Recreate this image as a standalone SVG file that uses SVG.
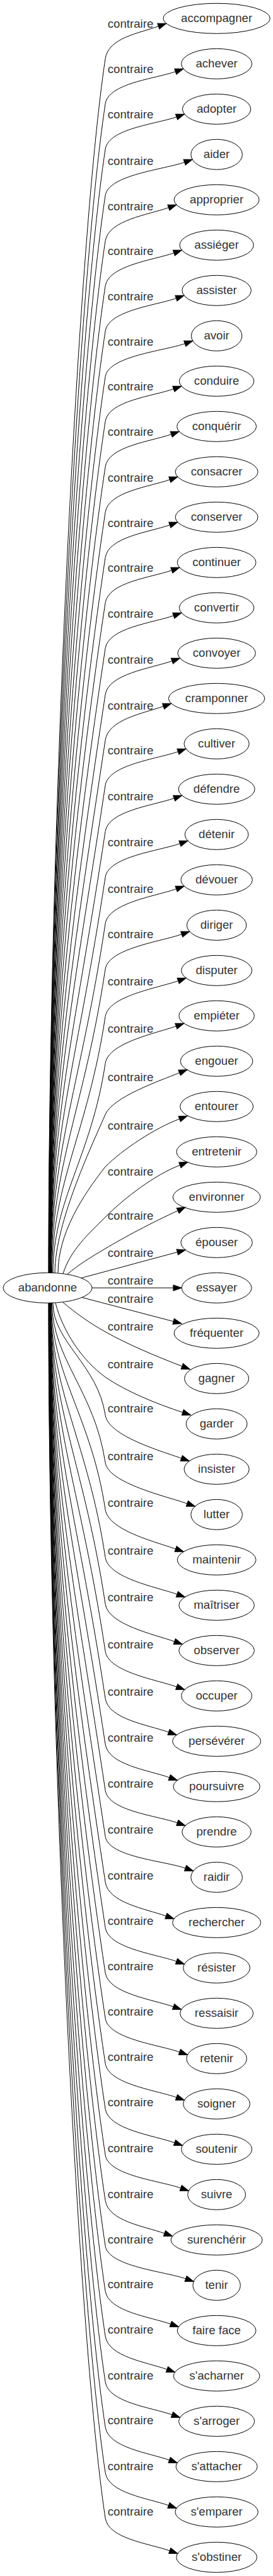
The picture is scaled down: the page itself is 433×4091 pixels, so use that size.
<svg xmlns="http://www.w3.org/2000/svg" width="433" height="4091" viewBox="0 0 433 4091">
<defs>
<marker id="ah" markerUnits="userSpaceOnUse" markerWidth="14" markerHeight="10" refX="0" refY="4.67" orient="auto" overflow="visible"><path d="M0,0 L13.3,4.67 L0,9.33 Z" fill="#000" stroke="#000" stroke-width="1"/></marker>
</defs>
<style>
.n ellipse{fill:none;stroke:#000;stroke-width:1}
text{font-family:"Liberation Sans",Arial,Helvetica,sans-serif;font-size:18.67px;text-anchor:middle;fill:#333}
.e path{fill:none;stroke:#000;stroke-width:1;marker-end:url(#ah)}
</style>
<rect width="433" height="4091" fill="#fff"/>
<g id="edges" class="e">
<g id="e00"><path d="M77,2021.5 C77,1346.6 122,393.3 167,93.3 C172,60.3 218.4,53.3 251.3,41.7"/><text x="207" y="44.3">contraire</text></g>
<g id="e01"><path d="M77.2,2021.5 C77.2,1371.7 122,465 167,165 C172,132 245.4,125.3 278.3,113.7"/><text x="207" y="116">contraire</text></g>
<g id="e02"><path d="M77.4,2021.5 C77.4,1396.9 122,537 167,237 C172,204 247.1,197.3 280,185.7"/><text x="207" y="188">contraire</text></g>
<g id="e03"><path d="M77.6,2021.5 C77.6,1422.6 122,610.5 167,310.5 C172,277.5 259.7,269.3 292.6,257.7"/><text x="207" y="261.5">contraire</text></g>
<g id="e04"><path d="M77.8,2021.5 C77.8,1447.9 122,682.7 167,382.7 C172,349.7 234.5,341.3 267.4,329.7"/><text x="207" y="333.7">contraire</text></g>
<g id="e05"><path d="M78,2021.5 C78,1473 122,754.3 167,454.3 C172,421.3 242.9,413.3 275.8,401.7"/><text x="207" y="405.3">contraire</text></g>
<g id="e06"><path d="M78.2,2021.5 C78.2,1498.1 122,826 167,526 C172,493 246.5,485.3 279.4,473.7"/><text x="207" y="477">contraire</text></g>
<g id="e07"><path d="M78.4,2021.5 C78.4,1523.4 122,898.3 167,598.3 C172,565.3 260.3,557.3 293.2,545.7"/><text x="207" y="549.3">contraire</text></g>
<g id="e08"><path d="M78.6,2021.5 C78.6,1548.2 122,969.2 167,669.2 C172,636.2 242.4,629.3 275.3,617.7"/><text x="207" y="620.2">contraire</text></g>
<g id="e09"><path d="M78.8,2021.5 C78.8,1573.5 122,1041.4 167,741.4 C172,708.4 238.8,701.3 271.7,689.7"/><text x="207" y="692.4">contraire</text></g>
<g id="e10"><path d="M79,2021.5 C79,1598.8 122,1113.7 167,813.7 C172,780.7 236.4,773.3 269.3,761.7"/><text x="207" y="764.7">contraire</text></g>
<g id="e11"><path d="M79.2,2021.5 C79.2,1623.9 122,1185.5 167,885.5 C172,852.5 236.4,845.3 269.3,833.7"/><text x="207" y="836.5">contraire</text></g>
<g id="e12"><path d="M79.4,2021.5 C79.4,1649.1 122,1257.4 167,957.4 C172,924.4 239.4,917.3 272.3,905.7"/><text x="207" y="908.4">contraire</text></g>
<g id="e13"><path d="M79.6,2021.5 C79.6,1674.4 122,1329.7 167,1029.7 C172,996.7 242.4,989.3 275.3,977.7"/><text x="207" y="980.7">contraire</text></g>
<g id="e14"><path d="M79.8,2021.5 C79.8,1700 122,1403 167,1103 C172,1070 240,1061.3 272.9,1049.7"/><text x="207" y="1054">contraire</text></g>
<g id="e15"><path d="M80,2021.5 C80,1725.4 122,1475.5 167,1175.5 C172,1142.5 226.2,1133.3 259.1,1121.7"/><text x="207" y="1126.5">contraire</text></g>
<g id="e16"><path d="M80.2,2021.5 C80.2,1750.5 122,1547.2 167,1247.2 C172,1214.2 249.5,1205.3 282.4,1193.7"/><text x="207" y="1198.2">contraire</text></g>
<g id="e17"><path d="M80.4,2021.5 C80.4,1776.1 122,1620.4 167,1320.4 C172,1287.4 243.2,1279.3 276.1,1267.7"/><text x="207" y="1271.4">contraire</text></g>
<g id="e18"><path d="M80.6,2021.5 C80.6,1801.6 124.6,1675.9 167,1393.1 C172,1360.1 252.5,1351.3 285.4,1339.7"/><text x="207" y="1344.1">contraire</text></g>
<g id="e19"><path d="M80.8,2021.5 C80.8,1827.4 129.6,1716.5 167,1466.9 C172,1433.9 246.7,1423.3 279.6,1411.7"/><text x="207" y="1417.9">contraire</text></g>
<g id="e20"><path d="M81.5,2021.5 C81.5,1852.7 134.4,1756.2 167,1539.1 C172,1506.1 255.3,1495.3 288.2,1483.7"/><text x="207" y="1490.1">contraire</text></g>
<g id="e21"><path d="M82.5,2021.5 C82.5,1879 139.5,1797.6 167,1614.4 C172,1581.4 249.7,1569.3 282.6,1557.7"/><text x="207" y="1565.4">contraire</text></g>
<g id="e22"><path d="M84,2021.5 C84,1905.1 144.5,1838.6 167,1688.9 C172,1655.9 246.4,1641.3 279.3,1629.7"/><text x="207" y="1639.9">contraire</text></g>
<g id="e23"><path d="M87,2021.5 C87,1940 150,1810 167,1770 C178.7,1742.4 251.7,1717 284.6,1703.7"/><text x="207" y="1717.4">contraire</text></g>
<g id="e24"><path d="M92,2021.5 C92,1960 130,1900 167,1853 C195,1825 245,1792 284.7,1777"/><text x="207" y="1793.7">contraire</text></g>
<g id="e25"><path d="M100,2022.6 C112,1985 140,1960 167,1933 C198,1902 245,1866 285.4,1850.4"/><text x="207" y="1866.7">contraire</text></g>
<g id="e26"><path d="M107,2023.6 C125,2008 145,1996 167,1983 C197,1965 240,1942 282.1,1922.7"/><text x="207" y="1937">contraire</text></g>
<g id="e27"><path d="M129,2029.6 L281.3,1988.5"/><text x="207" y="1995.5">contraire</text></g>
<g id="e28"><path d="M146,2045.3 L274.9,2045.3"/><text x="207" y="2040.3">contraire</text></g>
<g id="e29"><path d="M130,2060.5 L275.1,2098.6"/><text x="207" y="2069">contraire</text></g>
<g id="e30"><path d="M100,2068.5 C120,2085 140,2100 167,2115 C200,2134 250,2155 288.8,2169.8"/><text x="207" y="2113.3">contraire</text></g>
<g id="e31"><path d="M88,2069.3 C100,2115 130,2160 167,2187 C200,2210 250,2230 289.8,2243.1"/><text x="207" y="2172.7">contraire</text></g>
<g id="e32"><path d="M84,2069.2 C84,2131.5 155,2167.2 167,2247.3 C172,2280.3 254.8,2304.3 287.7,2315.9"/><text x="207" y="2243.3">contraire</text></g>
<g id="e33"><path d="M82.5,2069.2 C82.5,2157.9 149.9,2208.6 167,2322.7 C172,2355.7 263.9,2376.3 296.8,2387.9"/><text x="207" y="2318.7">contraire</text></g>
<g id="e34"><path d="M81.5,2069.2 C81.5,2184 144.9,2249.7 167,2397.3 C172,2430.3 245.7,2448.3 278.6,2459.9"/><text x="207" y="2393.3">contraire</text></g>
<g id="e35"><path d="M80.8,2069.2 C80.8,2210.6 139.7,2291.5 167,2473.3 C172,2506.3 247.9,2520.3 280.8,2531.9"/><text x="207" y="2469.3">contraire</text></g>
<g id="e36"><path d="M80.6,2069.2 C80.6,2236.5 134.7,2332.2 167,2547.3 C172,2580.3 243.8,2595.3 276.7,2606.9"/><text x="207" y="2543.3">contraire</text></g>
<g id="e37"><path d="M80.4,2069.2 C80.4,2262.8 129.7,2373.4 167,2622.3 C172,2655.3 247.3,2667.3 280.2,2678.9"/><text x="207" y="2618.3">contraire</text></g>
<g id="e38"><path d="M80.2,2069.2 C80.2,2289 124.6,2414.7 167,2697.3 C172,2730.3 234.6,2739.3 267.5,2750.9"/><text x="207" y="2693.3">contraire</text></g>
<g id="e39"><path d="M80.1,2069.2 C80.1,2314.5 122,2470 167,2770 C172,2803 235.8,2811.3 268.7,2822.9"/><text x="207" y="2766">contraire</text></g>
<g id="e40"><path d="M79.9,2069.2 C79.9,2340.1 122,2543.2 167,2843.2 C172,2876.2 248.4,2883.3 281.3,2894.9"/><text x="207" y="2839.2">contraire</text></g>
<g id="e41"><path d="M79.7,2069.2 C79.7,2365.7 122,2616.4 167,2916.4 C172,2949.4 261.1,2955.3 294,2966.9"/><text x="207" y="2912.4">contraire</text></g>
<g id="e42"><path d="M79.5,2069.2 C79.5,2391.1 122,2689 167,2989 C172,3022 230.4,3031.3 263.3,3042.9"/><text x="207" y="2985">contraire</text></g>
<g id="e43"><path d="M79.3,2069.2 C79.3,2416.4 122,2761.2 167,3061.2 C172,3094.2 247,3103.3 279.9,3114.9"/><text x="207" y="3057.2">contraire</text></g>
<g id="e44"><path d="M79.2,2069.2 C79.2,2441.5 122,2833 167,3133 C172,3166 242.1,3175.3 275,3186.9"/><text x="207" y="3129">contraire</text></g>
<g id="e45"><path d="M79,2069.2 C79,2466.8 122,2905.2 167,3205.2 C172,3238.2 251.9,3247.3 284.8,3258.9"/><text x="207" y="3201.2">contraire</text></g>
<g id="e46"><path d="M78.8,2069.2 C78.8,2491.9 122,2976.9 167,3276.9 C172,3309.9 247,3319.3 279.9,3330.9"/><text x="207" y="3272.9">contraire</text></g>
<g id="e47"><path d="M78.6,2069.2 C78.6,2517.2 122,3049.1 167,3349.1 C172,3382.1 244,3391.3 276.9,3402.9"/><text x="207" y="3345.1">contraire</text></g>
<g id="e48"><path d="M78.4,2069.2 C78.4,2542.8 122,3122.3 167,3422.3 C172,3455.3 253.8,3463.3 286.7,3474.9"/><text x="207" y="3418.3">contraire</text></g>
<g id="e49"><path d="M78.3,2069.2 C78.3,2568.1 122,3194.5 167,3494.5 C172,3527.5 228,3535.3 260.9,3546.9"/><text x="207" y="3490.5">contraire</text></g>
<g id="e50"><path d="M78.1,2069.2 C78.1,2593.3 122,3266.7 167,3566.7 C172,3599.7 261.7,3607.3 294.6,3618.9"/><text x="207" y="3562.7">contraire</text></g>
<g id="e51"><path d="M77.9,2069.2 C77.9,2618.4 122,3338.3 167,3638.3 C172,3671.3 237.8,3679.3 270.7,3690.9"/><text x="207" y="3634.3">contraire</text></g>
<g id="e52"><path d="M77.7,2069.2 C77.7,2643.5 122,3410 167,3710 C172,3743 232,3751.3 264.9,3762.9"/><text x="207" y="3706">contraire</text></g>
<g id="e53"><path d="M77.5,2069.2 C77.5,2668.9 122,3482.7 167,3782.7 C172,3815.7 240,3823.3 272.9,3834.9"/><text x="207" y="3778.7">contraire</text></g>
<g id="e54"><path d="M77.4,2069.2 C77.4,2694 122,3554.3 167,3854.3 C172,3887.3 235.7,3895.3 268.6,3906.9"/><text x="207" y="3850.3">contraire</text></g>
<g id="e55"><path d="M77.2,2069.2 C77.2,2719.3 122,3626.7 167,3926.7 C172,3959.7 234.5,3967.3 267.4,3978.9"/><text x="207" y="3922.7">contraire</text></g>
<g id="e56"><path d="M77,2069.2 C77,2744.6 122,3699 167,3999 C172,4032 236.3,4039.3 269.2,4050.9"/><text x="207" y="3995">contraire</text></g>
</g>
<g id="n-src" class="n"><ellipse cx="75.5" cy="2045.3" rx="70.5" ry="24"/><text x="75.5" y="2050.8">abandonne</text></g>
<g id="n00" class="n"><ellipse cx="343.6" cy="29.3" rx="84.6" ry="24"/><text x="343.6" y="34.8">accompagner</text></g>
<g id="n01" class="n"><ellipse cx="343.6" cy="101.3" rx="56" ry="24"/><text x="343.6" y="106.8">achever</text></g>
<g id="n02" class="n"><ellipse cx="343.6" cy="173.3" rx="54.2" ry="24"/><text x="343.6" y="178.8">adopter</text></g>
<g id="n03" class="n"><ellipse cx="343.6" cy="245.3" rx="40.8" ry="24"/><text x="343.6" y="250.8">aider</text></g>
<g id="n04" class="n"><ellipse cx="343.6" cy="317.3" rx="67.5" ry="24"/><text x="343.6" y="322.8">approprier</text></g>
<g id="n05" class="n"><ellipse cx="343.6" cy="389.3" rx="58.6" ry="24"/><text x="343.6" y="394.8">assiéger</text></g>
<g id="n06" class="n"><ellipse cx="343.6" cy="461.3" rx="54.8" ry="24"/><text x="343.6" y="466.8">assister</text></g>
<g id="n07" class="n"><ellipse cx="343.6" cy="533.3" rx="40.2" ry="24"/><text x="343.6" y="538.8">avoir</text></g>
<g id="n08" class="n"><ellipse cx="343.6" cy="605.3" rx="59.2" ry="24"/><text x="343.6" y="610.8">conduire</text></g>
<g id="n09" class="n"><ellipse cx="343.6" cy="677.3" rx="63" ry="24"/><text x="343.6" y="682.8">conquérir</text></g>
<g id="n10" class="n"><ellipse cx="343.6" cy="749.3" rx="65.5" ry="24"/><text x="343.6" y="754.8">consacrer</text></g>
<g id="n11" class="n"><ellipse cx="343.6" cy="821.3" rx="65.5" ry="24"/><text x="343.6" y="826.8">conserver</text></g>
<g id="n12" class="n"><ellipse cx="343.6" cy="893.3" rx="62.4" ry="24"/><text x="343.6" y="898.8">continuer</text></g>
<g id="n13" class="n"><ellipse cx="343.6" cy="965.3" rx="59.2" ry="24"/><text x="343.6" y="970.8">convertir</text></g>
<g id="n14" class="n"><ellipse cx="343.6" cy="1037.3" rx="61.7" ry="24"/><text x="343.6" y="1042.8">convoyer</text></g>
<g id="n15" class="n"><ellipse cx="343.6" cy="1109.3" rx="76.3" ry="24"/><text x="343.6" y="1114.8">cramponner</text></g>
<g id="n16" class="n"><ellipse cx="343.6" cy="1181.3" rx="51.6" ry="24"/><text x="343.6" y="1186.8">cultiver</text></g>
<g id="n17" class="n"><ellipse cx="343.6" cy="1253.3" rx="60.5" ry="24"/><text x="343.6" y="1258.8">défendre</text></g>
<g id="n18" class="n"><ellipse cx="343.6" cy="1325.3" rx="50.3" ry="24"/><text x="343.6" y="1330.8">détenir</text></g>
<g id="n19" class="n"><ellipse cx="343.6" cy="1397.3" rx="56.7" ry="24"/><text x="343.6" y="1402.8">dévouer</text></g>
<g id="n20" class="n"><ellipse cx="343.6" cy="1469.3" rx="47.2" ry="24"/><text x="343.6" y="1474.8">diriger</text></g>
<g id="n21" class="n"><ellipse cx="343.6" cy="1541.3" rx="56" ry="24"/><text x="343.6" y="1546.8">disputer</text></g>
<g id="n22" class="n"><ellipse cx="343.6" cy="1613.3" rx="59.8" ry="24"/><text x="343.6" y="1618.8">empiéter</text></g>
<g id="n23" class="n"><ellipse cx="343.6" cy="1685.3" rx="57.3" ry="24"/><text x="343.6" y="1690.8">engouer</text></g>
<g id="n24" class="n"><ellipse cx="343.6" cy="1757.3" rx="58" ry="24"/><text x="343.6" y="1762.8">entourer</text></g>
<g id="n25" class="n"><ellipse cx="343.6" cy="1829.3" rx="63.7" ry="24"/><text x="343.6" y="1834.8">entretenir</text></g>
<g id="n26" class="n"><ellipse cx="343.6" cy="1901.3" rx="69.4" ry="24"/><text x="343.6" y="1906.8">environner</text></g>
<g id="n27" class="n"><ellipse cx="343.6" cy="1973.3" rx="56.7" ry="24"/><text x="343.6" y="1978.8">épouser</text></g>
<g id="n28" class="n"><ellipse cx="343.6" cy="2045.3" rx="55.4" ry="24"/><text x="343.6" y="2050.8">essayer</text></g>
<g id="n29" class="n"><ellipse cx="343.6" cy="2117.3" rx="67.5" ry="24"/><text x="343.6" y="2122.8">fréquenter</text></g>
<g id="n30" class="n"><ellipse cx="343.6" cy="2189.3" rx="51" ry="24"/><text x="343.6" y="2194.8">gagner</text></g>
<g id="n31" class="n"><ellipse cx="343.6" cy="2261.3" rx="48.4" ry="24"/><text x="343.6" y="2266.8">garder</text></g>
<g id="n32" class="n"><ellipse cx="343.6" cy="2333.3" rx="51.6" ry="24"/><text x="343.6" y="2338.8">insister</text></g>
<g id="n33" class="n"><ellipse cx="343.6" cy="2405.3" rx="40.8" ry="24"/><text x="343.6" y="2410.8">lutter</text></g>
<g id="n34" class="n"><ellipse cx="343.6" cy="2477.3" rx="62.4" ry="24"/><text x="343.6" y="2482.8">maintenir</text></g>
<g id="n35" class="n"><ellipse cx="343.6" cy="2549.3" rx="59.8" ry="24"/><text x="343.6" y="2554.8">maîtriser</text></g>
<g id="n36" class="n"><ellipse cx="343.6" cy="2621.3" rx="59.8" ry="24"/><text x="343.6" y="2626.8">observer</text></g>
<g id="n37" class="n"><ellipse cx="343.6" cy="2693.3" rx="56" ry="24"/><text x="343.6" y="2698.8">occuper</text></g>
<g id="n38" class="n"><ellipse cx="343.6" cy="2765.3" rx="70" ry="24"/><text x="343.6" y="2770.8">persévérer</text></g>
<g id="n39" class="n"><ellipse cx="343.6" cy="2837.3" rx="68.7" ry="24"/><text x="343.6" y="2842.8">poursuivre</text></g>
<g id="n40" class="n"><ellipse cx="343.6" cy="2909.3" rx="54.8" ry="24"/><text x="343.6" y="2914.8">prendre</text></g>
<g id="n41" class="n"><ellipse cx="343.6" cy="2981.3" rx="40.8" ry="24"/><text x="343.6" y="2986.8">raidir</text></g>
<g id="n42" class="n"><ellipse cx="343.6" cy="3053.3" rx="70" ry="24"/><text x="343.6" y="3058.8">rechercher</text></g>
<g id="n43" class="n"><ellipse cx="343.6" cy="3125.3" rx="52.9" ry="24"/><text x="343.6" y="3130.8">résister</text></g>
<g id="n44" class="n"><ellipse cx="343.6" cy="3197.3" rx="58" ry="24"/><text x="343.6" y="3202.8">ressaisir</text></g>
<g id="n45" class="n"><ellipse cx="343.6" cy="3269.3" rx="47.8" ry="24"/><text x="343.6" y="3274.8">retenir</text></g>
<g id="n46" class="n"><ellipse cx="343.6" cy="3341.3" rx="52.9" ry="24"/><text x="343.6" y="3346.8">soigner</text></g>
<g id="n47" class="n"><ellipse cx="343.6" cy="3413.3" rx="56" ry="24"/><text x="343.6" y="3418.8">soutenir</text></g>
<g id="n48" class="n"><ellipse cx="343.6" cy="3485.3" rx="45.9" ry="24"/><text x="343.6" y="3490.8">suivre</text></g>
<g id="n49" class="n"><ellipse cx="343.6" cy="3557.3" rx="72.5" ry="24"/><text x="343.6" y="3562.8">surenchérir</text></g>
<g id="n50" class="n"><ellipse cx="343.6" cy="3629.3" rx="37.7" ry="24"/><text x="343.6" y="3634.8">tenir</text></g>
<g id="n51" class="n"><ellipse cx="343.6" cy="3701.3" rx="62.4" ry="24"/><text x="343.6" y="3706.8">faire face</text></g>
<g id="n52" class="n"><ellipse cx="343.6" cy="3773.3" rx="68.4" ry="24"/><text x="343.6" y="3778.8">s'acharner</text></g>
<g id="n53" class="n"><ellipse cx="343.6" cy="3845.3" rx="60.1" ry="24"/><text x="343.6" y="3850.8">s'arroger</text></g>
<g id="n54" class="n"><ellipse cx="343.6" cy="3917.3" rx="64.6" ry="24"/><text x="343.6" y="3922.8">s'attacher</text></g>
<g id="n55" class="n"><ellipse cx="343.6" cy="3989.3" rx="65.8" ry="24"/><text x="343.6" y="3994.8">s'emparer</text></g>
<g id="n56" class="n"><ellipse cx="343.6" cy="4061.3" rx="63.9" ry="24"/><text x="343.6" y="4066.8">s'obstiner</text></g>
</svg>
